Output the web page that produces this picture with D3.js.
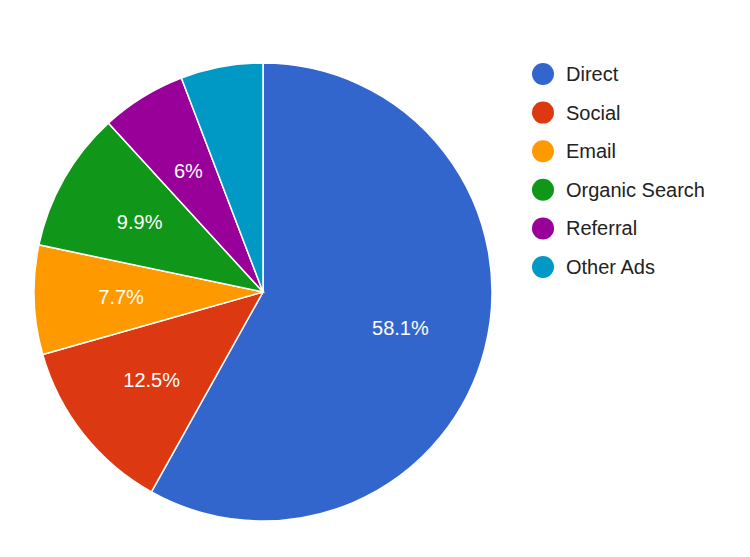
<!DOCTYPE html>
<html>
<head>
<meta charset="utf-8">
<script src="https://cdn.jsdelivr.net/npm/d3@7.9.0/dist/d3.min.js"></script>
<style>
  body { margin: 0; background: #fff; }
  text { font-family: Arial, "Liberation Sans", sans-serif; }
</style>
</head>
<body>
<svg id="chart" width="750" height="557"></svg>
<script>
// chart values
const categories = ['Direct', 'Social', 'Email', 'Organic Search', 'Referral', 'Other Ads'];
const shares = [58.1, 12.5, 7.7, 9.9, 6, 5.8];
const labels = ['58.1%', '12.5%', '7.7%', '9.9%', '6%', ''];
const colors = ['#3366cc', '#dc3912', '#ff9900', '#109618', '#990099', '#0099c6'];

const svg = d3.select('#chart');
const cx = 263, cy = 292, radius = 229;

const data = categories.map((c, i) => ({ name: c, value: shares[i], label: labels[i], color: colors[i] }));

const pie = d3.pie().value(d => d.value).sort(null);
const arc = d3.arc().innerRadius(0).outerRadius(radius);
const labelArc = d3.arc().innerRadius(radius * 0.62).outerRadius(radius * 0.62);

const g = svg.append('g').attr('transform', `translate(${cx},${cy})`);
const arcs = pie(data);

g.selectAll('path')
  .data(arcs)
  .join('path')
  .attr('d', arc)
  .attr('fill', d => d.data.color)
  .attr('stroke', '#fff')
  .attr('stroke-width', 1.5);

g.selectAll('text')
  .data(arcs)
  .join('text')
  .attr('transform', d => `translate(${labelArc.centroid(d)})`)
  .attr('text-anchor', 'middle')
  .attr('dy', '0.35em')
  .attr('fill', '#fff')
  .attr('font-size', 20)
  .text(d => d.data.label);

// legend
const legend = svg.append('g').attr('transform', 'translate(543,74)');
const rows = legend.selectAll('g')
  .data(data)
  .join('g')
  .attr('transform', (d, i) => `translate(0,${i * 38.6})`);

rows.append('circle').attr('r', 11).attr('fill', d => d.color);
rows.append('text')
  .attr('x', 23)
  .attr('dy', '0.35em')
  .attr('font-size', 20)
  .attr('fill', '#222')
  .text(d => d.name);
</script>
</body>
</html>
